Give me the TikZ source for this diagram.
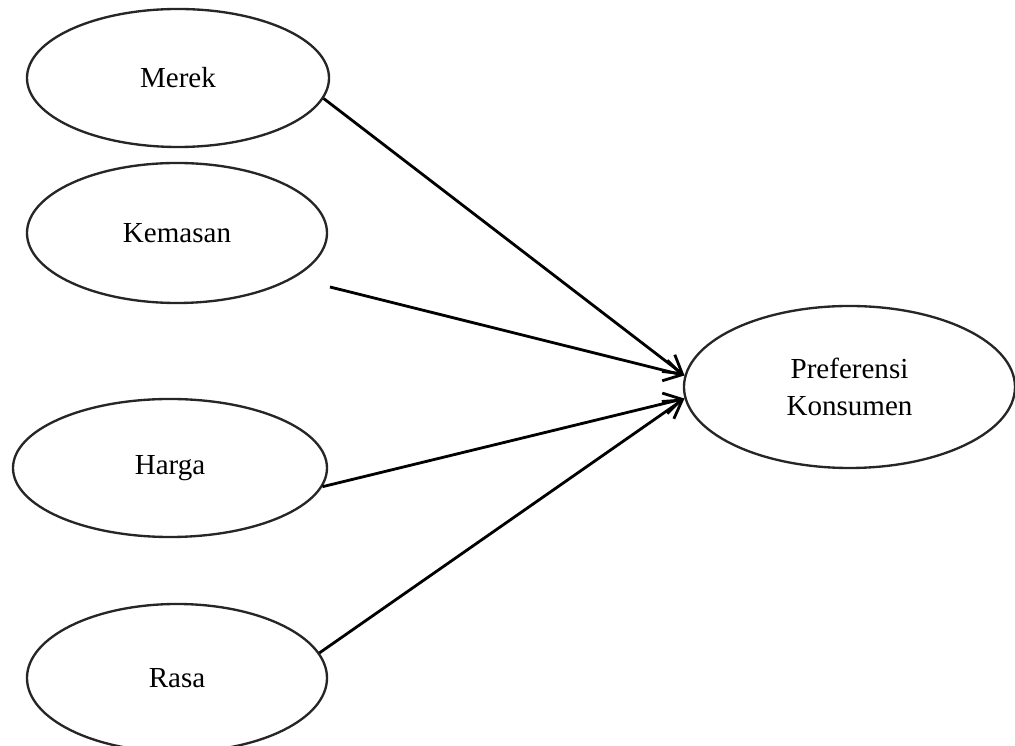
\documentclass[tikz,border=0pt]{standalone}
\usepackage{fontspec}
\setmainfont{Liberation Serif}
\usetikzlibrary{shapes.geometric,arrows.meta}

\tikzset{
    variabel/.style={draw=black!85, line width=1pt, ellipse, inner sep=0pt,
        font=\fontsize{12.4}{16}\selectfont, align=center},
    panah/.style={-{Straight Barb[length=7.5pt,width=9pt,line width=1.2pt]}, line width=1.2pt}
}

\begin{document}
\begin{tikzpicture}[x=0.015cm, y=-0.015cm]
        \useasboundingbox (0,0) rectangle (1015,746);

        \node[variabel, minimum width=4.53cm, minimum height=2.07cm] (merek) at (178,78) {Merek};
        \node[variabel, minimum width=4.5cm, minimum height=2.1cm] (kemasan) at (177,233) {Kemasan};
        \node[variabel, minimum width=4.71cm, minimum height=2.07cm] (harga) at (170,468) {Harga};
        \node[variabel, minimum width=4.5cm, minimum height=2.22cm] (rasa) at (177,678) {Rasa};

        \node[variabel, minimum width=4.965cm, minimum height=2.43cm] (preferensi) at (849.5,387) {Preferensi\\Konsumen};

        \coordinate (kemasan-ujung) at (330,287);

        \draw[panah] (merek.-8) -- (preferensi.176);
        \draw[panah] (kemasan-ujung) -- (preferensi.176);
        \draw[panah] (harga.-7) -- (preferensi.184);
        \draw[panah] (rasa.10) -- (preferensi.184);
    \end{tikzpicture}
\end{document}
